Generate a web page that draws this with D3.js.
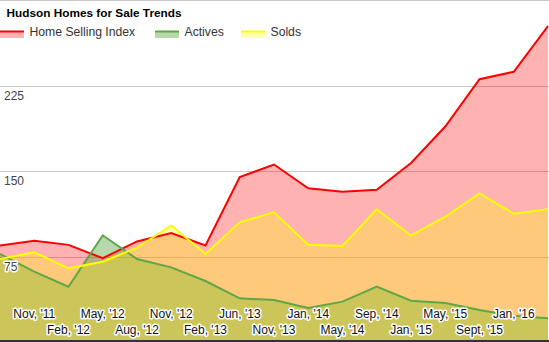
<!DOCTYPE html>
<html>
<head>
<meta charset="utf-8">
<script src="https://cdn.jsdelivr.net/npm/d3@7"></script>
<style>
  html, body { margin: 0; padding: 0; background: #fff; }
  svg { display: block; font-family: "Liberation Sans", Arial, sans-serif; }
  .halo { paint-order: stroke; stroke: #fff; stroke-width: 3px; stroke-linejoin: round; }
</style>
</head>
<body>
<svg id="chart" width="549" height="342"></svg>
<script>
const title = "Hudson Homes for Sale Trends";
// 17 monthly-ish points; the first and last carry no visible label
const tickLabels = ["", "Nov, '11", "Feb, '12", "May, '12", "Aug, '12", "Nov, '12", "Feb, '13", "Jun, '13",
  "Nov, '13", "Jan, '14", "May, '14", "Sep, '14", "Jan, '15", "May, '15", "Sept, '15", "Jan, '16", ""];
const homeSellingIndex = [84.6, 88.8, 85.2, 73.5, 88.2, 95.5, 84.6, 144.6, 155.7, 134.9, 131.7, 133.5, 157, 189, 230.5, 237, 277];
const actives = [77.2, 61.7, 48.5, 93.6, 72.8, 65.5, 53.5, 38.3, 36.8, 29.8, 35.4, 48.6, 36.2, 34.2, 28, 23, 20.8];
const solds = [72.8, 78.7, 64.6, 70.4, 82.7, 102.3, 77.2, 105, 113.7, 85.4, 84.2, 116.4, 93.3, 109.9, 130.4, 112.5, 116.4];
const yTicks = [75, 150, 225, 300];
const yLabelTicks = [75, 150, 225];

const seriesNames = ["Home Selling Index", "Actives", "Solds"];
const seriesValues = [homeSellingIndex, actives, solds];
const lineColors = ["#ff0000", "#5fa646", "#ffff00"];
const fillColors = ["#ff0000", "#5fa646", "#ffff00"];
const fillOpacity = [0.3, 0.45, 0.3];

const W = 549, H = 342;
const svg = d3.select("#chart");
const x = d3.scaleLinear().domain([0, tickLabels.length - 1]).range([0, 548]);
const y = d3.scaleLinear().domain([0, 300]).range([342, 0]);

// gridlines
svg.append("g").selectAll("line").data(yTicks).join("line")
  .attr("x1", 0).attr("x2", W)
  .attr("y1", d => Math.round(y(d)) + 0.5).attr("y2", d => Math.round(y(d)) + 0.5)
  .attr("stroke", "#c8c8c8").attr("stroke-width", 1);

// areas
const area = d3.area().x((d, i) => x(i)).y0(y(0)).y1(d => y(d));
const line = d3.line().x((d, i) => x(i)).y(d => y(d));
seriesValues.forEach((vals, k) => {
  svg.append("path").attr("d", area(vals))
    .attr("fill", fillColors[k]).attr("fill-opacity", fillOpacity[k]);
});
seriesValues.forEach((vals, k) => {
  svg.append("path").attr("d", line(vals))
    .attr("fill", "none").attr("stroke", lineColors[k]).attr("stroke-width", 2)
    .attr("stroke-linejoin", "miter");
});

// bottom axis line
svg.append("line").attr("x1", 0).attr("x2", W).attr("y1", 341).attr("y2", 341)
  .attr("stroke", "#333").attr("stroke-width", 2);

// y labels (inside plot)
svg.append("g").selectAll("text").data(yLabelTicks).join("text")
  .attr("class", "halo")
  .attr("x", 4).attr("y", d => y(d) + 14)
  .attr("font-size", 12).attr("fill", "#444")
  .text(d => d);

// x labels, alternating rows
svg.append("g").selectAll("text").data(tickLabels.map((t, i) => ({t, i})).filter(d => d.t))
  .join("text")
  .attr("class", "halo")
  .attr("x", d => x(d.i)).attr("y", d => d.i % 2 === 1 ? 317.5 : 333.5)
  .attr("text-anchor", "middle").attr("font-size", 12).attr("fill", "#111")
  .text(d => d.t);

// title
svg.append("text").attr("x", 6.5).attr("y", 17)
  .attr("font-size", 11.8).attr("font-weight", "bold").attr("fill", "#000")
  .text(title);

// legend
const legendX = [0, 155, 241];
const legend = svg.append("g");
seriesNames.forEach((name, k) => {
  const g = legend.append("g").attr("transform", `translate(${legendX[k]},0)`);
  g.append("rect").attr("x", 0).attr("y", 31).attr("width", 24).attr("height", 7)
    .attr("fill", fillColors[k]).attr("fill-opacity", fillOpacity[k]);
  g.append("line").attr("x1", 0).attr("x2", 24).attr("y1", 31.5).attr("y2", 31.5)
    .attr("stroke", lineColors[k]).attr("stroke-width", 2);
  g.append("text").attr("x", 29.5).attr("y", 36).attr("font-size", 12.2).attr("fill", "#333")
    .text(name);
});
</script>
</body>
</html>
